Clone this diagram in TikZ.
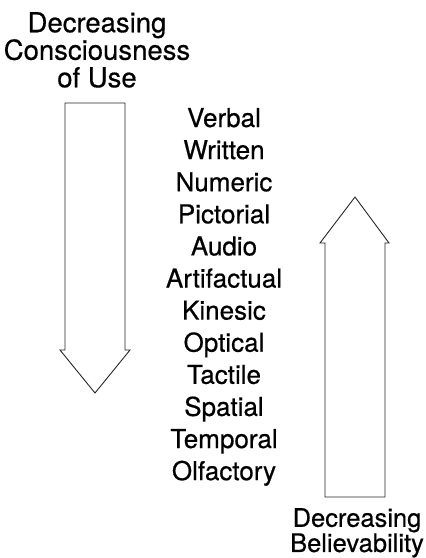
\documentclass[tikz,border=0pt]{standalone}
\usepackage{fontspec}
\setmainfont{TeX Gyre Heros}[FakeBold=0.5]
\usetikzlibrary{positioning}

\begin{document}
\begin{tikzpicture}[
      x=1pt, y=-1pt,
      every node/.style={inner sep=0pt, font=\fontsize{26}{32}\selectfont},
      medium/.style={anchor=base},
      heading/.style={align=center, anchor=north},
      blockarrow/.style={draw=black!85, line width=0.9pt, fill=white, line join=miter}
    ]
      \useasboundingbox (0,0) rectangle (426,558);

      % Downward arrow on the left
      \draw[blockarrow] (65,103) -- (125,103) -- (125,350) -- (130,350) -- (95,393)
        -- (60,350) -- (65,350) -- cycle;
      % Upward arrow on the right
      \draw[blockarrow] (325,497) -- (385,497) -- (385,243) -- (389,243) -- (355,197)
        -- (320,243) -- (325,243) -- cycle;

      % Headings
      \node[heading, font=\fontsize{27.5}{27.5}\selectfont] (consc) at (97,12) {Decreasing\\Consciousness\\of Use};
      \node[heading, font=\fontsize{25.5}{24}\selectfont] (believ) at (357,508) {Decreasing\\Believability};

      % Media, one per line
      \foreach \medname [count=\i from 0] in {Verbal, Written, Numeric, Pictorial, Audio,
          Artifactual, Kinesic, Optical, Tactile, Spatial, Temporal, Olfactory}
        \node[medium] (media\i) at (224,{127+32.1*\i}) {\medname};
    \end{tikzpicture}
\end{document}
